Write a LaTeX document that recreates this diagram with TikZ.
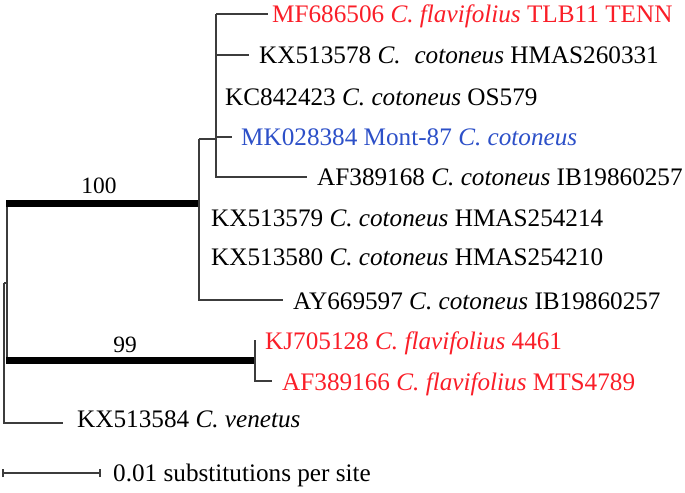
\documentclass[tikz,border=0pt]{standalone}
\usepackage{fontspec}
\setmainfont{Liberation Serif}
\definecolor{tred}{RGB}{250,30,40}
\definecolor{tblue}{RGB}{45,80,200}
\definecolor{br}{RGB}{60,60,60}
\begin{document}
\begin{tikzpicture}[x=1bp,y=-1bp,
  tip/.style={anchor=base west,inner sep=0pt,font=\fontsize{25.3}{29}\selectfont},
  boot/.style={anchor=base,inner sep=0pt,font=\fontsize{23.5}{27}\selectfont},
  br/.style={draw=br,line width=1.3bp},
  thick/.style={draw=black,line width=7bp}]
\useasboundingbox (0,0) rectangle (685,493);
% tree coordinates
\coordinate (root) at (4,283);
\coordinate (ing) at (7,283);
\coordinate (ingT) at (7,204);
\coordinate (ingB) at (7,360);
\coordinate (c100) at (199,204);
\coordinate (c100T) at (199,139);
\coordinate (c100B) at (199,300);
\coordinate (sub) at (216,139);
\coordinate (subT) at (216,14);
\coordinate (subB) at (216,177);
\coordinate (c99) at (255,360);
\coordinate (c99T) at (255,340);
\coordinate (c99B) at (255,381);
\coordinate (rootB) at (4,423);
% tip line ends
\coordinate (eMF) at (268,14);
\coordinate (eKX78) at (249,55);
\coordinate (eMK) at (232,137);
\coordinate (eAF68) at (307,177);
\coordinate (eAY) at (283,300);
\coordinate (eAF66) at (272,381);
\coordinate (eKX84) at (63,423);
% tips
\node[tip,text=tred] (MF) at (272,23) {MF686506 \textit{C. flavifolius} TLB11 TENN};
\node[tip] (KX78) at (259,64) {KX513578 \textit{C.}\hspace{0.55em}\textit{cotoneus} HMAS260331};
\node[tip] (KC) at (225,106) {KC842423 \textit{C. cotoneus} OS579};
\node[tip,text=tblue] (MK) at (241,146) {MK028384 Mont-87 \textit{C. cotoneus}};
\node[tip] (AF68) at (317,186) {AF389168 \textit{C. cotoneus} IB19860257};
\node[tip] (KX79) at (211,227) {KX513579 \textit{C. cotoneus} HMAS254214};
\node[tip] (KX80) at (211,266) {KX513580 \textit{C. cotoneus} HMAS254210};
\node[tip] (AY) at (293,309) {AY669597 \textit{C. cotoneus} IB19860257};
\node[tip,text=tred] (KJ) at (265,349) {KJ705128 \textit{C. flavifolius} 4461};
\node[tip,text=tred] (AF66) at (282,390) {AF389166 \textit{C. flavifolius} MTS4789};
\node[tip] (KX84) at (77,427) {KX513584 \textit{C. venetus}};
% bootstrap
\node[boot] (b100) at (99,194) {100};
\node[boot] (b99) at (125,352) {99};
% branches
\draw[br] (root) -- (ing);
\draw[br] (root) -- (rootB) -- (eKX84);
\draw[br] (ingT) -- (ingB);
\draw[thick] ([xshift=-0.6bp]ingT) -- ([xshift=0.6bp]c100);
\draw[thick] ([xshift=-0.6bp]ingB) -- ([xshift=0.6bp]c99);
\draw[br] (c100T) -- (c100B) -- (eAY);
\draw[br] (c100T) -- (sub);
\draw[br] (subT) -- (subB) -- (eAF68);
\draw[br] (subT) -- (eMF);
\draw[br] (sub |- eKX78) -- (eKX78);
\draw[br] (sub |- eMK) -- (eMK);
\draw[br] (c99T) -- (c99B) -- (eAF66);
% scale bar
\coordinate (sL) at (3,473);
\coordinate (sR) at (100,473);
\draw[br] (sL) -- (sR);
\draw[br] ([yshift=-4bp]sL) -- ([yshift=4bp]sL);
\draw[br] ([yshift=-4bp]sR) -- ([yshift=4bp]sR);
\node[tip] (scale) at (113,481) {0.01 substitutions per site};
\end{tikzpicture}
\end{document}
